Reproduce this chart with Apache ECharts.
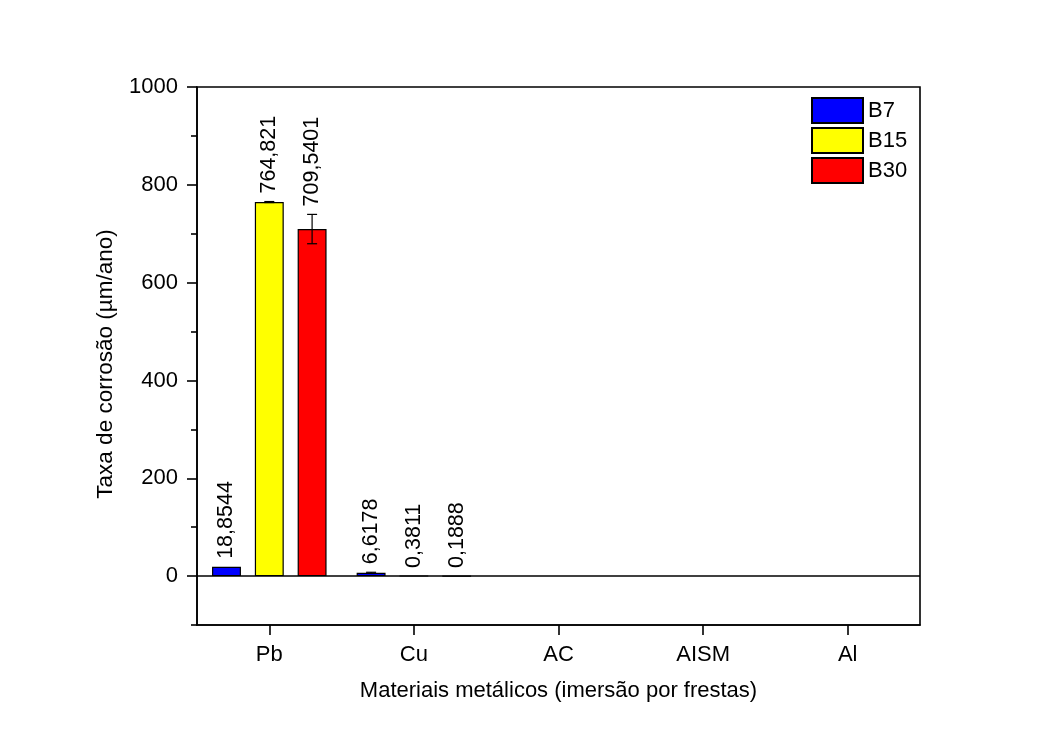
<!DOCTYPE html>
<html>
<head>
<meta charset="utf-8">
<script src="https://cdn.jsdelivr.net/npm/echarts@6/dist/echarts.min.js"></script>
<style>
html,body{margin:0;padding:0;background:#fff;}
#chart{width:1052px;height:742px;}
</style>
</head>
<body>
<div id="chart"></div>
<script>
const categories = ['Pb', 'Cu', 'AC', 'AISM', 'Al'];
const seriesNames = ['B7', 'B15', 'B30'];
const b7 = [18.8544, 6.6178, null, null, null];
const b15 = [764.821, 0.3811, null, null, null];
const b30 = [709.5401, 0.1888, null, null, null];
const b7Err = [0, 1.2, null, null, null];
const b15Err = [1, 0, null, null, null];
const b30Err = [30, 0, null, null, null];
const yTickLabels = [0, 200, 400, 600, 800, 1000];
const yMinorTicks = [-100, 100, 300, 500, 700, 900];

const FONT = 'Liberation Sans, Arial, sans-serif';
const colors = ['#0000ff', '#ffff00', '#ff0000'];
const values = [b7, b15, b30];
const errs = [b7Err, b15Err, b30Err];

const errData = [];
values.forEach((arr, s) => {
  arr.forEach((v, i) => {
    if (v !== null) errData.push([i, v, errs[s][i] || 0, s]);
  });
});

function fmt(v) { return String(v).replace('.', ','); }

const chart = echarts.init(document.getElementById('chart'), null, {renderer: 'canvas'});

const barSeries = seriesNames.map((name, s) => ({
  name: name,
  type: 'bar',
  data: values[s],
  barWidth: '20%',
  barGap: '48%',
  itemStyle: {color: colors[s], borderColor: '#000', borderWidth: 1.2},
  emphasis: {disabled: true},
  markLine: s === 0 ? {
    silent: true, symbol: 'none', animation: false,
    label: {show: false},
    lineStyle: {color: '#000', width: 1.6, type: 'solid'},
    data: [{yAxis: 0}]
  } : undefined
}));

const option = {
  backgroundColor: '#fff',
  animation: false,
  textStyle: {fontFamily: FONT, color: '#000'},
  grid: {left: 197, right: 132, top: 87, bottom: 117, show: true, borderColor: '#000', borderWidth: 1.6, backgroundColor: 'transparent'},
  legend: {
    data: seriesNames,
    orient: 'vertical',
    left: 811,
    top: 97,
    itemWidth: 51,
    itemHeight: 25,
    itemGap: 3,
    padding: 0,
    icon: 'rect',
    textStyle: {fontSize: 22, fontFamily: FONT, color: '#000'},
    selectedMode: false
  },
  xAxis: {
    type: 'category',
    data: categories,
    boundaryGap: true,
    name: 'Materiais metálicos (imersão por frestas)',
    nameLocation: 'middle',
    nameGap: 55,
    nameTextStyle: {fontSize: 22, fontFamily: FONT, color: '#000'},
    axisLine: {show: true, onZero: false, lineStyle: {color: '#000', width: 1.6}},
    axisTick: {show: true, alignWithLabel: true, length: 10, lineStyle: {color: '#000', width: 1.6}},
    axisLabel: {fontSize: 22, fontFamily: FONT, color: '#000', margin: 19},
    splitLine: {show: false}
  },
  yAxis: [{
    type: 'value',
    min: -100,
    max: 1000,
    interval: 100,
    name: 'Taxa de corrosão (µm/ano)',
    nameLocation: 'middle',
    nameGap: 80,
    nameTextStyle: {fontSize: 22.5, fontFamily: FONT, color: '#000', padding: [0, 16, 0, 0]},
    axisLine: {show: true, lineStyle: {color: '#000', width: 1.6}},
    axisTick: {show: true, length: 10, customValues: yTickLabels, lineStyle: {color: '#000', width: 1.6}},
    axisLabel: {fontSize: 22, fontFamily: FONT, color: '#000', margin: 19, customValues: yTickLabels, formatter: function (v) { return String(v); }},
    splitLine: {show: false}
  }, {
    type: 'value',
    min: -100,
    max: 1000,
    interval: 100,
    position: 'left',
    axisLine: {show: false},
    axisTick: {show: true, length: 6, customValues: yMinorTicks, lineStyle: {color: '#000', width: 1.6}},
    axisLabel: {show: false},
    splitLine: {show: false}
  }],
  series: barSeries.concat([{
    name: 'err',
    type: 'custom',
    data: errData,
    encode: {x: 0, y: 1},
    z: 5,
    silent: true,
    renderItem: function (params, api) {
      const ci = api.value(0), v = api.value(1), e = api.value(2), s = api.value(3);
      const band = api.size([1, 0])[0];
      const bw = band * 0.2, gap = bw * 0.48;
      const cx = api.coord([ci, 0])[0] + (s - 1) * (bw + gap);
      const yTop = api.coord([ci, v + e])[1];
      const yBot = api.coord([ci, v - e])[1];
      const cap = 5;
      const st = {stroke: '#000', lineWidth: 1.2};
      const children = [];
      if (e > 0) {
        children.push({type: 'line', shape: {x1: cx, y1: yTop, x2: cx, y2: yBot}, style: st});
        children.push({type: 'line', shape: {x1: cx - cap, y1: yTop, x2: cx + cap, y2: yTop}, style: st});
        children.push({type: 'line', shape: {x1: cx - cap, y1: yBot, x2: cx + cap, y2: yBot}, style: st});
      }
      children.push({
        type: 'text',
        x: cx, y: yTop - 8,
        rotation: Math.PI / 2,
        style: {text: fmt(v), align: 'left', verticalAlign: 'middle', fontSize: 21.5, fontFamily: FONT, fill: '#000'}
      });
      return {type: 'group', children: children};
    }
  }])
};
chart.setOption(option);
</script>
</body>
</html>
